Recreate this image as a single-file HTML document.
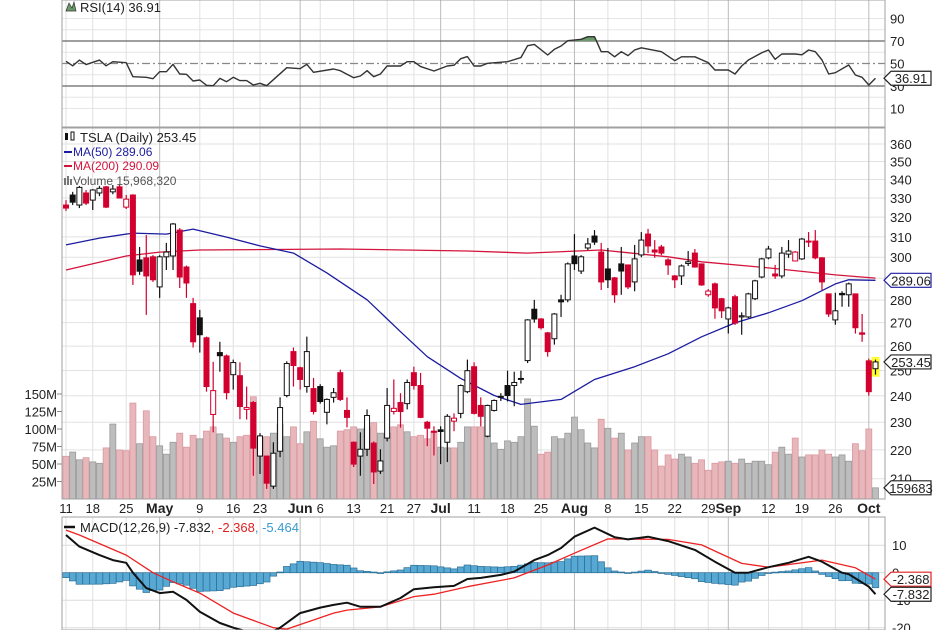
<!DOCTYPE html>
<html><head><meta charset="utf-8"><style>
html,body{margin:0;padding:0;background:#fff;}
svg{display:block;font-family:"Liberation Sans",sans-serif;}
</style></head><body>
<svg id="chart" width="936" height="630" viewBox="0 0 936 630" xmlns="http://www.w3.org/2000/svg">
<defs>
<clipPath id="cRsi"><rect x="62" y="0" width="823" height="127"/></clipPath>
<clipPath id="cRsiOB"><rect x="62" y="0" width="823" height="41"/></clipPath>
<clipPath id="cMain"><rect x="62" y="128" width="823" height="371"/></clipPath>
<clipPath id="cMacd"><rect x="62" y="517" width="823" height="113"/></clipPath>
</defs>
<g id="grid"></g>
<g id="vol" clip-path="url(#cMain)"></g>
<g id="ma" clip-path="url(#cMain)"></g>
<g id="candles" clip-path="url(#cMain)"></g>
<g id="rsi"></g>
<g id="macd" clip-path="url(#cMacd)"></g>
<g id="frames"></g>
<g id="axes"></g>
<g id="legend">
 <path d="M66 11 L69 3 L72 8 L74 2 L76 11 Z" fill="#6a9a6a" stroke="#333" stroke-width="0.7"/>
 <text x="80" y="12" font-size="13" fill="#222">RSI(14) 36.91</text>
 <g><rect x="65" y="133" width="3" height="7" fill="#111"/><rect x="71" y="132" width="3" height="8" fill="none" stroke="#111" stroke-width="1"/></g>
 <text x="80" y="142" font-size="13" fill="#222">TSLA (Daily) 253.45</text>
 <line x1="64" y1="152" x2="72" y2="152" stroke="#1c1ca0" stroke-width="2"/>
 <text x="73" y="156" font-size="12" fill="#1c1ca0">MA(50) 289.06</text>
 <line x1="64" y1="166" x2="72" y2="166" stroke="#d4143c" stroke-width="2"/>
 <text x="73" y="170" font-size="12" fill="#d4143c">MA(200) 290.09</text>
 <g fill="#777"><rect x="64" y="178" width="2" height="7"/><rect x="67" y="176" width="2" height="9"/><rect x="70" y="179" width="2" height="6"/></g>
 <text x="73" y="185" font-size="12" fill="#555">Volume 15,968,320</text>
 <line x1="64" y1="527" x2="75" y2="527" stroke="#111" stroke-width="2.5"/>
 <text x="80" y="532" font-size="13" fill="#222">MACD(12,26,9) -7.832<tspan fill="#e02020">, -2.368</tspan><tspan fill="#3a9ad0">, -5.464</tspan></text>
</g>
<g id="tags"></g>
</svg>
<script>
// ---------- data ----------
const opens=[326.3,331.6,326.3,332.7,328.9,332.7,336.0,333.3,336.0,325.2,331.6,298.7,299.7,300.2,286.0,300.2,300.6,313.4,295.3,278.4,272.1,263.5,232.9,257.3,255.9,248.3,247.9,234.8,237.4,217.8,217.8,207.5,219.5,240.1,257.7,251.1,243.6,242.8,243.6,233.7,239.4,249.1,234.4,222.7,217.8,220.2,222.4,212.6,224.2,234.0,237.4,237.0,249.1,244.0,230.0,226.7,227.2,222.7,230.4,233.3,241.6,251.5,236.3,224.9,234.4,239.4,244.0,244.0,246.8,254.0,275.9,271.6,265.6,263.1,280.1,280.1,300.6,293.4,304.5,310.4,302.5,294.4,290.2,296.8,296.3,288.3,301.1,311.4,303.5,305.0,298.7,291.1,291.1,297.0,302.0,296.8,282.4,287.4,280.6,271.6,281.5,272.5,272.5,280.6,290.6,299.7,292.0,291.1,301.5,298.2,299.2,307.9,307.9,299.7,282.8,271.2,283.0,282.4,282.8,265.6,253.9,250.7];
const highs=[328.9,333.3,336.5,334.3,334.8,336.5,336.5,337.0,337.0,331.6,332.0,305.0,310.9,301.0,301.0,307.0,317.0,314.4,296.0,281.0,275.6,264.0,253.5,261.8,256.5,254.4,253.3,243.6,238.0,226.0,218.0,222.7,239.4,253.7,259.4,251.5,264.0,247.0,244.5,239.0,243.0,250.3,239.4,223.0,226.3,234.8,223.0,220.2,243.0,246.4,241.0,246.4,251.5,249.0,230.5,228.5,228.5,233.0,233.3,244.4,254.4,253.3,239.4,236.6,238.6,241.0,249.9,249.5,249.9,271.5,280.1,272.0,266.0,274.2,282.4,297.5,311.4,301.0,309.4,313.4,307.0,304.5,290.6,305.0,296.5,306.0,312.4,314.0,308.4,306.0,299.5,291.5,296.5,303.0,304.0,297.0,285.0,288.0,281.0,277.0,282.4,274.5,283.3,289.3,299.7,305.5,296.3,305.0,308.4,303.0,309.5,312.4,313.4,300.0,283.0,283.3,284.0,288.0,283.0,273.8,254.8,254.4];
const lows=[323.2,326.3,324.7,326.3,323.7,331.0,324.7,332.0,330.0,324.2,286.9,291.6,273.4,288.3,281.0,293.9,293.9,285.5,281.0,259.4,257.3,241.6,226.3,249.5,238.6,242.4,231.1,231.0,211.0,211.6,206.6,206.6,217.4,239.4,243.6,242.4,241.2,232.9,237.0,229.2,237.4,238.0,228.1,214.0,211.0,217.8,208.2,211.6,223.0,232.9,228.0,234.8,242.4,231.5,221.3,218.0,215.0,215.7,226.7,231.5,241.0,232.9,228.5,224.5,234.0,238.0,237.8,236.0,244.8,253.0,270.0,267.0,255.6,260.6,272.5,279.0,293.9,292.0,303.5,306.0,284.6,285.5,278.8,282.4,285.0,284.0,300.0,302.0,299.7,301.0,291.6,285.5,286.9,295.8,295.0,286.5,281.5,271.7,272.0,265.3,269.0,264.8,272.0,280.0,290.0,299.0,289.7,290.0,299.7,298.0,298.7,305.0,299.0,284.6,272.5,269.1,277.0,277.0,265.3,261.8,240.1,248.3];
const closes=[324.7,327.8,335.7,327.3,334.3,335.2,325.2,334.8,330.0,329.4,291.6,293.3,291.1,289.3,300.2,302.5,316.5,290.6,287.8,261.8,264.8,243.6,242.0,256.0,241.2,253.2,235.9,235.5,220.6,225.0,208.5,218.8,235.5,252.8,252.0,246.4,257.7,234.0,237.8,238.6,241.2,238.6,231.8,215.0,220.2,232.5,212.3,216.1,236.3,235.2,234.0,245.2,244.0,231.8,227.8,226.3,226.6,232.2,231.5,244.0,249.9,233.3,232.2,236.3,238.2,239.8,240.1,245.2,246.4,271.2,271.6,267.8,257.7,273.8,279.2,296.8,296.9,300.2,306.5,307.4,288.3,289.3,282.4,293.4,286.0,299.2,308.4,305.5,302.5,302.0,296.3,289.3,295.8,297.8,295.3,286.9,284.1,276.5,275.2,276.5,269.8,273.0,282.8,288.8,299.2,304.0,291.1,302.0,303.0,302.5,308.9,307.4,299.7,288.3,273.8,275.2,282.4,287.4,267.8,265.0,241.6,253.45];
const volumes=[61,67,56,59,53,51,73,107,70,69,137,79,126,89,76,64,81,94,74,91,86,97,103,93,87,81,89,91,146,88,89,94,107,89,103,79,96,111,86,74,76,97,99,103,100,102,109,94,94,103,106,96,89,91,86,96,74,73,73,81,103,103,103,89,80,71,83,81,89,143,104,64,67,89,86,94,117,99,80,73,114,101,87,94,70,80,89,89,70,47,63,57,64,60,51,56,41,51,53,54,51,57,51,54,54,49,67,74,64,87,60,63,63,70,64,60,63,54,79,69,100,15.97];
const ma50Idx=[0,5,10,15,19,24,29,34,39,45,50,54,59,64,68,74,79,85,90,95,100,105,110,115,117,121];
const ma50Val=[306,309.4,311.9,311.4,313.9,309.9,305.5,302.0,292.5,280.1,266.1,255.6,246.8,240.1,236.7,238.6,246.4,251.5,256.8,263.9,269.9,274.3,279.7,287.4,289.3,289.06];
const ma200Idx=[0,9,14,20,41,60,69,80,90,95,105,115,121];
const ma200Val=[293.9,300.6,302.5,303.5,304.0,303.0,302.0,303.5,300.2,297.8,294.9,291.6,290.09];
const rsiIdx=[0,1,2,3,5,6,7,9,10,12,13,14,15,16,17,18,19,20,21,22,23,24,25,26,27,28,29,30,33,35,36,37,40,41,43,44,45,46,47,48,50,51,52,53,55,57,58,59,60,61,62,63,66,68,69,70,72,73,74,75,77,78,79,80,81,82,83,84,85,86,89,91,92,94,96,97,99,100,101,102,104,105,106,107,109,110,111,112,113,114,115,117,118,119,120,121];
const rsiVal=[52,48,53,49,53,48,51.6,50.7,38.3,37.7,36.5,42.7,42.7,49.3,40.7,40.4,34.4,35.3,30.6,30.3,36.8,33.8,37.7,34.8,34.8,30.9,32.4,30.3,46.3,45.4,49.3,42.2,45.1,43.6,37.4,38.9,43.6,38.3,40.7,47.8,47.8,51.6,51.6,47.2,43.3,47.8,48.5,54.3,56.1,47.8,47.8,50.2,51.6,55.2,65.8,67,57.6,62.6,65.6,70.3,71.5,73.8,73.8,60.5,60.5,56,60.5,57,62,64,60.5,52.5,56,56,50.8,44.2,44.2,40.7,47.8,53.1,59.6,62,53.7,58.4,58.4,57.7,62,60.5,53.1,40.7,41.8,48.7,39.8,37.7,30.9,36.91];
const macdIdx=[0,2,5,7,9,10,12,14,16,18,20,23,25,28,30,32,35,38,40,42,44,47,50,52,55,58,60,62,65,67,70,72,74,76,79,82,84,87,90,94,97,100,102,105,108,111,113,116,117,120,121];
const macdVal=[13.7,9.5,6.4,4.6,3.6,0,-5.6,-7.4,-6.9,-9.9,-14.2,-18.3,-20,-22,-22.5,-20,-14.7,-12.7,-11.7,-10.9,-12.4,-12.4,-9.2,-6,-5.3,-4.8,-2.3,-1.9,-0.8,0.4,4.6,6.4,9,13.1,16.4,12.9,12.1,13.1,11.5,8.3,4,0,0,2,3.6,5.8,4,0,-0.5,-5.1,-7.832];
const sigIdx=[0,2,9,13,16,20,25,31,33,40,42,47,52,55,60,67,72,76,81,90,95,101,105,113,118,121];
const sigVal=[15.5,13.7,6.4,0,-3.3,-7.4,-14.7,-20,-20.5,-14.7,-13.6,-12.4,-8.7,-7.8,-5.1,-1.9,2.8,7.1,12.3,12.1,10.1,3.4,2,4.6,1.8,-2.368];
const dateLabels=["11","18","25","May","9","16","23","Jun","6","13","21","27","Jul","11","18","25","Aug","8","15","22","29","Sep","12","19","26","Oct"];
const dateIdx=[0,4,9,14,20,25,29,35,38,43,48,52,56,61,66,71,76,81,86,91,96,99,105,110,115,120];
const monthFlag=[0,0,0,1,0,0,0,1,0,0,0,0,1,0,0,0,1,0,0,0,0,1,0,0,0,1];
const priceTicks=[360,350,340,330,320,310,300,290,280,270,260,250,240,230,220,210];
const volTicks=[150,125,100,75,50,25];
const rsiTicks=[90,70,50,30,10];
const macdTicks=[10,0,-10,-20];

// ---------- scales ----------
const NS="http://www.w3.org/2000/svg";
const xOf=i=>66+i*6.69;
const yP=p=>144+621*Math.log(360/p);
const yV=v=>499-0.7*v;
const yR=r=>63.5-(r-50)*1.125;
const yM=m=>572.7-2.75*m;
function mk(tag,attrs,parent){const e=document.createElementNS(NS,tag);for(const k in attrs)e.setAttribute(k,attrs[k]);parent.appendChild(e);return e;}
function interp(idx,val,i){for(let k=0;k<idx.length-1;k++){if(i>=idx[k]&&i<=idx[k+1]){const t=(i-idx[k])/(idx[k+1]-idx[k]);return val[k]+t*(val[k+1]-val[k]);}}return i<idx[0]?val[0]:val[val.length-1];}
const G=id=>document.getElementById(id);

// ---------- grid ----------
const grid=G('grid');
const LX=62,RX=885;
priceTicks.forEach(p=>{const l=mk('line',{x1:LX,x2:RX,y1:yP(p),y2:yP(p),stroke:'#e2e2e2','stroke-width':1},grid);

});
for(let r=10;r<=90;r+=10){if(r===30||r===50||r===70)continue;const l=mk('line',{x1:LX,x2:RX,y1:yR(r),y2:yR(r),stroke:'#e6e6e6'},grid);

}
macdTicks.forEach(m=>{const l=mk('line',{x1:LX,x2:RX,y1:yM(m),y2:yM(m),stroke:'#dcdcdc'},grid);

});
dateIdx.forEach((d,k)=>{const x=xOf(d);const c=monthFlag[k]?'#bbbbbb':'#e0e0e0';
[[0,127],[128,499],[517,630]].forEach(s=>{const l=mk('line',{x1:x,x2:x,y1:s[0],y2:s[1],stroke:c},grid);

});});

// ---------- volume ----------
const vol=G('vol');
volumes.forEach((v,i)=>{const down=i===0?true:closes[i]<closes[i-1];
const r=mk('rect',{x:xOf(i)-3,y:yV(v),width:6,height:499-yV(v),fill:down?'#e8b7bb':'#bdbdbd',stroke:down?'#d99aa0':'#9a9a9a','stroke-width':0.8},vol);

});

// ---------- moving averages ----------
const ma=G('ma');
function line(parent,idx,val,yf,color,w,name){const pts=idx.map((d,k)=>xOf(d).toFixed(1)+','+yf(val[k]).toFixed(1)).join(' ');
const pl=mk('polyline',{points:pts,fill:'none',stroke:color,'stroke-width':w,'stroke-linejoin':'round'},parent);

return pl;}
line(ma,ma200Idx,ma200Val,yP,'#d4143c',1.3,'ma200-line');
line(ma,ma50Idx,ma50Val,yP,'#1c1ca0',1.3,'ma50-line');

// ---------- candles ----------
const cg=G('candles');
const hl=mk('rect',{x:xOf(121)-4,y:yP(255.5),width:8,height:yP(247.5)-yP(255.5),fill:'#ffff30'},cg);


closes.forEach((c,i)=>{const o=opens[i];const down=i===0?true:c<closes[i-1];const col=down?'#d2002e':'#111';
const x=xOf(i);const g=mk('g',{},cg);


mk('line',{x1:x,x2:x,y1:yP(highs[i]),y2:yP(lows[i]),stroke:col,'stroke-width':1.2},g);
const top=yP(Math.max(o,c)),bot=yP(Math.min(o,c));
mk('rect',{x:x-2.5,y:top,width:5,height:Math.max(1,bot-top),fill:c>o?'#fff':col,stroke:col,'stroke-width':1},g);});

// ---------- RSI ----------
const rg=G('rsi');
const rl=mk('g',{'clip-path':'url(#cRsi)'},rg);
[[70,'#666','none'],[30,'#666','none'],[50,'#888','8,3,2,3']].forEach(a=>{const l=mk('line',{x1:LX,x2:RX,y1:yR(a[0]),y2:yR(a[0]),stroke:a[1],'stroke-width':1.3,'stroke-dasharray':a[2]},rl);

});
const obPts=rsiIdx.map((d,k)=>xOf(d).toFixed(1)+','+yR(rsiVal[k]).toFixed(1));
const ob=mk('polygon',{points:xOf(0)+','+yR(70)+' '+obPts.join(' ')+' '+xOf(121)+','+yR(70),fill:'#6a9a6a','clip-path':'url(#cRsiOB)'},rl);


line(rl,rsiIdx,rsiVal,yR,'#333',1.4,'rsi-line');

// ---------- MACD ----------
const mg=G('macd');
for(let i=0;i<closes.length;i++){const h=interp(macdIdx,macdVal,i)-interp(sigIdx,sigVal,i);const y0=yM(0),y1=yM(h);
const b=mk('rect',{x:xOf(i)-3.3,y:Math.min(y0,y1),width:6.6,height:Math.max(0.8,Math.abs(y1-y0)),fill:'#58a8d4',stroke:'#2a6f96','stroke-width':0.7},mg);

}
line(mg,sigIdx,sigVal,yM,'#ee2222',1.3,'macd-signal-line');
line(mg,macdIdx,macdVal,yM,'#111',2,'macd-line');

// ---------- frames ----------
const fr=G('frames');
[[0,127],[128,499],[517,630]].forEach(s=>{const r=mk('rect',{x:LX,y:s[0],width:RX-LX,height:s[1]-s[0],fill:'none',stroke:'#a0a0a0','stroke-width':1},fr);

});

// ---------- axes ----------
const ax=G('axes');
function txt(x,y,s,attrs,name){const t=mk('text',Object.assign({x:x,y:y,'font-size':13,fill:'#222'},attrs),ax);t.textContent=s;

return t;}
rsiTicks.forEach(r=>txt(890,yR(r)+5,String(r),{},'rsi-tick-label'));
priceTicks.forEach(p=>txt(890,yP(p)+5,String(p),{},'price-tick-label'));
macdTicks.forEach(m=>txt(892,yM(m)+5,String(m),{},'macd-tick-label'));
volTicks.forEach(v=>{txt(57,yV(v)+5,v+'M',{'text-anchor':'end'},'volume-tick-label');
const l=mk('line',{x1:57,x2:62,y1:yV(v),y2:yV(v),stroke:'#888'},ax);

});
dateLabels.forEach((s,k)=>txt(xOf(dateIdx[k]),513,s,{'text-anchor':'middle','font-weight':monthFlag[k]?'bold':'normal','font-size':monthFlag[k]?14:13},'date-label'));

// ---------- value tags ----------
const tg=G('tags');
function tag(y,s,color,name){const g=mk('g',{},tg);


mk('polygon',{points:`884,${y} 891,${y-7} 931,${y-7} 931,${y+7} 891,${y+7}`,fill:'#fff',stroke:color,'stroke-width':1.2},g);
const t=mk('text',{x:911,y:y+5,'font-size':13,fill:'#222','text-anchor':'middle'},g);t.textContent=s;}
tag(yR(36.91),'36.91','#222','rsi-value-tag');
tag(yP(289.06),'289.06','#1c1ca0','ma50-value-tag');
tag(yP(253.45),'253.45','#222','price-value-tag');
tag(yV(15.97),'159683','#222','volume-value-tag');
tag(yM(-2.368),'-2.368','#e02020','signal-value-tag');
tag(yM(-7.832),'-7.832','#222','macd-value-tag');
</script>
</body></html>
